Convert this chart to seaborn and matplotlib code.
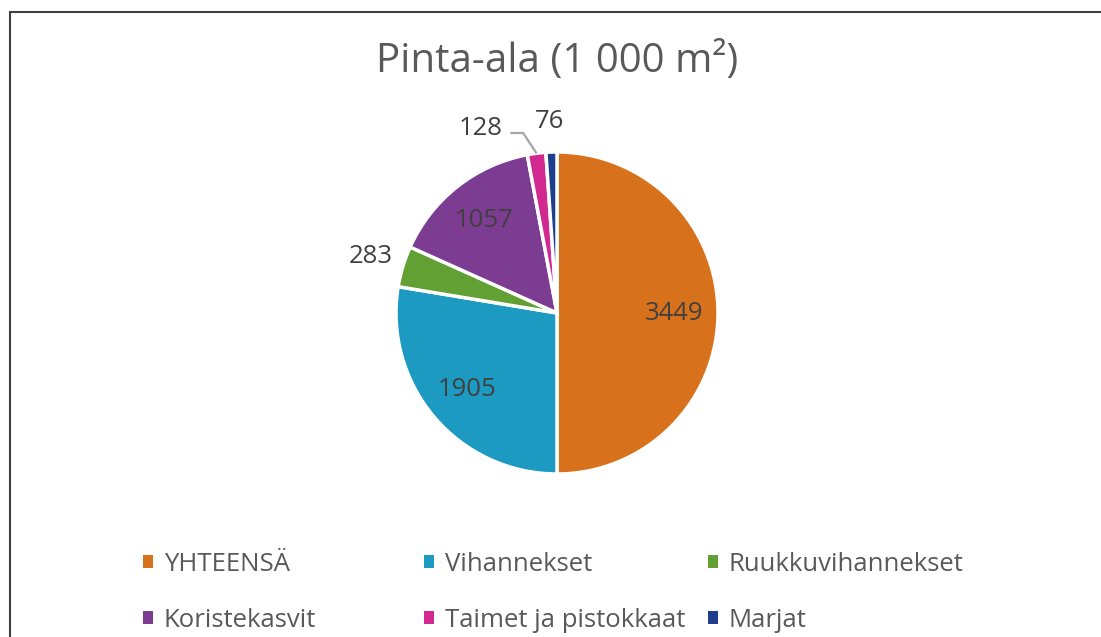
import numpy as np
import matplotlib.pyplot as plt
from matplotlib.patches import Patch
import seaborn as sns

# ==========================================
# DATA
# ==========================================
CATEGORIES = ["YHTEENSÄ", "Vihannekset", "Ruukkuvihannekset",
              "Koristekasvit", "Taimet ja pistokkaat", "Marjat"]
AREAS = [3449, 1905, 283, 1057, 128, 76]
COLORS = ["#D8711B", "#1C9AC1", "#62A033", "#7B3C91", "#D1298F", "#1F3F8E"]

TEXT_GRAY = "#595959"
LABEL_DARK = "#404040"

sns.set_theme(style="white")
plt.rcParams["font.family"] = ["Open Sans", "DejaVu Sans"]

fig = plt.figure(figsize=(11.01, 6.37), dpi=100)
fig.patch.set_facecolor("white")
# pie centre ~ (557, 313) px, radius ~161 px
ax = fig.add_axes([(557 - 161) / 1101, (637 - 313 - 161) / 637, 322 / 1101, 322 / 637])

wedges, _ = ax.pie(AREAS, colors=COLORS, startangle=90, counterclock=False,
                   wedgeprops=dict(edgecolor="white", linewidth=2.5))
ax.set_xlim(-1, 1)
ax.set_ylim(-1, 1)
ax.set_aspect("equal")


def mid_xy(w, r):
    a = np.deg2rad((w.theta1 + w.theta2) / 2)
    return r * np.cos(a), r * np.sin(a)


label_kw = dict(fontsize=18.5, color=LABEL_DARK, ha="center", va="center")

# labels inside the big slices
for i in [0, 1, 3]:
    x, y = mid_xy(wedges[i], 0.73)
    ax.text(x, y, f"{AREAS[i]}", **label_kw)

# Ruukkuvihannekset outside
x, y = mid_xy(wedges[2], 1.21)
ax.text(x, y, f"{AREAS[2]}", **label_kw)

# Taimet ja pistokkaat with leader line
px, py = mid_xy(wedges[4], 1.0)
ax.plot([-0.29, -0.21, px], [1.118, 1.118, py], color="#A6A6A6", lw=1.6,
        clip_on=False, solid_capstyle="butt")
ax.text(-0.335, 1.145, f"{AREAS[4]}", fontsize=18.5, color=LABEL_DARK,
        ha="right", va="center")

# Marjat outside
x, y = mid_xy(wedges[5], 1.19)
ax.text(x - 0.005, y, f"{AREAS[5]}", **label_kw)

fig.text(557 / 1101, 1 - 62 / 637, "Pinta-ala (1 000 m²)", ha="center", va="center",
         fontsize=29, color=TEXT_GRAY)

# legend: three columns, two rows, filled row-wise
col_x = [143, 424, 708]
for c in range(3):
    idx = [c, c + 3]
    handles = [Patch(facecolor=COLORS[i], edgecolor="none") for i in idx]
    fig.legend(handles, [CATEGORIES[i] for i in idx], loc="upper left",
               bbox_to_anchor=(col_x[c] / 1101, 1 - 552 / 637), frameon=False,
               fontsize=18.5, labelcolor=TEXT_GRAY, handlelength=0.38,
               handleheight=0.38, handletextpad=0.42, labelspacing=1.2,
               borderaxespad=0, borderpad=0)

# frame lines (top and left)
fig.add_artist(plt.Line2D([10 / 1101, 1.0], [1 - 12 / 637, 1 - 12 / 637], color="#404040", lw=1.5))
fig.add_artist(plt.Line2D([10 / 1101, 10 / 1101], [0.0, 1 - 12 / 637], color="#404040", lw=1.5))

fig.savefig("out.png", dpi=100)
